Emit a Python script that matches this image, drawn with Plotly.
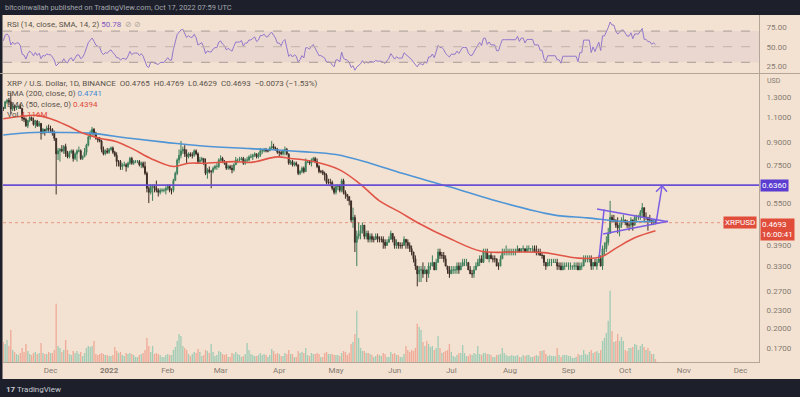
import math
import pandas as pd
import plotly.graph_objects as go

# ---------------- data ----------------
start_date = "2021-11-06"
first_open = 1.19
# closes before the visible window, only used to warm up the RSI
warmup_closes = [1.13, 1.09, 1.09, 1.10, 1.12, 1.07, 1.08, 1.11, 1.09, 1.10, 1.08,
                 0.99, 1.04, 1.10, 1.09, 1.09, 1.11, 1.15, 1.17, 1.17, 1.19]

closes = [
    # Nov 2021 (from Nov 6)
    1.185, 1.250, 1.265, 1.250, 1.180, 1.210, 1.190, 1.205, 1.205, 1.185, 1.095, 1.085, 1.030,
    1.075, 1.100, 1.080, 1.040, 1.070, 1.030, 1.050, 0.970, 1.000, 0.990, 1.010, 1.000,
    # Dec
    1.00, 0.97, 0.93, 0.82, 0.84, 0.85, 0.84, 0.87, 0.82, 0.80, 0.83, 0.84, 0.79, 0.82, 0.84, 0.84,
    0.79, 0.80, 0.83, 0.88, 0.94, 0.97, 1.00, 0.97, 0.93, 0.92, 0.91, 0.85, 0.82, 0.84, 0.83,
    # Jan 2022
    0.85, 0.86, 0.83, 0.81, 0.77, 0.77, 0.74, 0.75, 0.75, 0.74, 0.76, 0.79, 0.76, 0.77, 0.77, 0.77,
    0.75, 0.76, 0.74, 0.70, 0.62, 0.60, 0.63, 0.63, 0.62, 0.61, 0.60, 0.61, 0.61, 0.61, 0.62,
    # Feb
    0.63, 0.61, 0.61, 0.66, 0.70, 0.78, 0.81, 0.84, 0.85, 0.82, 0.80, 0.82, 0.81, 0.81, 0.84, 0.82,
    0.77, 0.78, 0.79, 0.76, 0.70, 0.72, 0.71, 0.71, 0.73, 0.74, 0.74, 0.78,
    # Mar
    0.79, 0.77, 0.76, 0.73, 0.74, 0.73, 0.72, 0.75, 0.78, 0.78, 0.78, 0.79, 0.76, 0.78, 0.78, 0.80,
    0.80, 0.81, 0.82, 0.80, 0.81, 0.84, 0.84, 0.85, 0.84, 0.84, 0.86, 0.87, 0.86, 0.85, 0.83,
    # Apr
    0.83, 0.82, 0.84, 0.85, 0.82, 0.76, 0.77, 0.75, 0.76, 0.75, 0.70, 0.71, 0.73, 0.71, 0.77, 0.77,
    0.76, 0.78, 0.79, 0.77, 0.74, 0.71, 0.71, 0.70, 0.69, 0.65, 0.65, 0.65, 0.62, 0.60,
    # May
    0.63, 0.63, 0.61, 0.66, 0.60, 0.59, 0.58, 0.56, 0.48, 0.49, 0.40, 0.42, 0.43, 0.44, 0.46, 0.42,
    0.43, 0.41, 0.42, 0.41, 0.41, 0.42, 0.41, 0.41, 0.41, 0.40, 0.39, 0.40, 0.41, 0.43, 0.41,
    # Jun
    0.39, 0.40, 0.39, 0.39, 0.39, 0.41, 0.40, 0.39, 0.38, 0.37, 0.35, 0.33, 0.31, 0.32, 0.32, 0.31,
    0.32, 0.31, 0.33, 0.33, 0.34, 0.32, 0.34, 0.37, 0.36, 0.36, 0.35, 0.33, 0.32, 0.31,
    # Jul
    0.32, 0.32, 0.32, 0.33, 0.32, 0.33, 0.34, 0.34, 0.34, 0.32, 0.31, 0.31, 0.32, 0.33, 0.34, 0.35,
    0.34, 0.37, 0.37, 0.35, 0.36, 0.35, 0.35, 0.35, 0.33, 0.33, 0.35, 0.37, 0.37, 0.37, 0.37,
    # Aug
    0.37, 0.37, 0.37, 0.37, 0.38, 0.37, 0.38, 0.38, 0.37, 0.38, 0.38, 0.38, 0.38, 0.37, 0.37, 0.37,
    0.36, 0.36, 0.34, 0.33, 0.34, 0.34, 0.34, 0.34, 0.34, 0.33, 0.33, 0.32, 0.33, 0.33, 0.33,
    # Sep
    0.33, 0.33, 0.33, 0.33, 0.33, 0.32, 0.33, 0.33, 0.35, 0.35, 0.35, 0.35, 0.33, 0.34, 0.33, 0.34,
    0.35, 0.33, 0.38, 0.38, 0.40, 0.43, 0.49, 0.48, 0.48, 0.46, 0.45, 0.46, 0.48, 0.48,
    # Oct (to Oct 17)
    0.47, 0.46, 0.46, 0.48, 0.46, 0.49, 0.49, 0.49, 0.51, 0.53, 0.49, 0.49, 0.48, 0.48, 0.47,
    0.4765, 0.4693,
]

highs = [
    1.20, 1.26, 1.28, 1.29, 1.35, 1.23, 1.22, 1.21, 1.21, 1.23, 1.19, 1.11, 1.10,
    1.08, 1.11, 1.11, 1.10, 1.08, 1.08, 1.07, 1.05, 1.01, 1.00, 1.03, 1.04,
    1.03, 1.01, 0.99, 0.93, 0.86, 0.86, 0.88, 0.88, 0.89, 0.84, 0.84, 0.85, 0.85, 0.83, 0.85, 0.87,
    0.85, 0.81, 0.86, 0.89, 0.95, 0.99, 1.02, 1.01, 0.98, 0.94, 0.94, 0.92, 0.87, 0.85, 0.86,
    0.86, 0.87, 0.87, 0.84, 0.83, 0.78, 0.78, 0.76, 0.77, 0.76, 0.77, 0.80, 0.80, 0.78, 0.78, 0.78,
    0.78, 0.77, 0.77, 0.77, 0.71, 0.63, 0.64, 0.64, 0.64, 0.66, 0.62, 0.62, 0.62, 0.62, 0.63,
    0.64, 0.64, 0.62, 0.67, 0.71, 0.79, 0.85, 0.91, 0.87, 0.88, 0.85, 0.83, 0.83, 0.83, 0.85, 0.85,
    0.83, 0.80, 0.80, 0.79, 0.79, 0.73, 0.74, 0.72, 0.74, 0.75, 0.76, 0.79,
    0.81, 0.80, 0.78, 0.77, 0.75, 0.75, 0.75, 0.76, 0.80, 0.79, 0.80, 0.80, 0.80, 0.79, 0.80, 0.81,
    0.82, 0.82, 0.83, 0.82, 0.83, 0.86, 0.85, 0.86, 0.86, 0.85, 0.87, 0.91, 0.89, 0.87, 0.86,
    0.84, 0.84, 0.85, 0.87, 0.86, 0.82, 0.78, 0.78, 0.77, 0.77, 0.75, 0.72, 0.74, 0.74, 0.79, 0.78,
    0.78, 0.79, 0.80, 0.80, 0.79, 0.75, 0.72, 0.72, 0.71, 0.70, 0.67, 0.67, 0.66, 0.63,
    0.64, 0.64, 0.64, 0.67, 0.67, 0.61, 0.59, 0.58, 0.56, 0.53, 0.50, 0.44, 0.47, 0.46, 0.47, 0.46,
    0.44, 0.44, 0.43, 0.43, 0.42, 0.43, 0.43, 0.42, 0.42, 0.42, 0.41, 0.41, 0.42, 0.44, 0.43,
    0.42, 0.41, 0.40, 0.40, 0.40, 0.42, 0.41, 0.41, 0.40, 0.39, 0.37, 0.36, 0.33, 0.33, 0.33, 0.34,
    0.33, 0.32, 0.34, 0.34, 0.36, 0.34, 0.35, 0.38, 0.38, 0.37, 0.37, 0.36, 0.33, 0.33,
    0.33, 0.33, 0.33, 0.34, 0.34, 0.34, 0.35, 0.35, 0.35, 0.34, 0.33, 0.32, 0.33, 0.34, 0.35, 0.36,
    0.36, 0.38, 0.38, 0.38, 0.36, 0.37, 0.36, 0.36, 0.35, 0.34, 0.36, 0.38, 0.38, 0.39, 0.38,
    0.38, 0.38, 0.38, 0.38, 0.39, 0.38, 0.38, 0.39, 0.38, 0.39, 0.39, 0.38, 0.39, 0.39, 0.39, 0.38,
    0.38, 0.37, 0.36, 0.34, 0.35, 0.35, 0.35, 0.35, 0.35, 0.35, 0.34, 0.34, 0.34, 0.34, 0.34,
    0.34, 0.34, 0.33, 0.34, 0.34, 0.34, 0.34, 0.34, 0.36, 0.36, 0.36, 0.36, 0.36, 0.34, 0.35, 0.35,
    0.36, 0.36, 0.39, 0.40, 0.42, 0.45, 0.56, 0.50, 0.50, 0.48, 0.49, 0.47, 0.49, 0.50,
    0.48, 0.48, 0.47, 0.49, 0.48, 0.50, 0.50, 0.50, 0.52, 0.55, 0.53, 0.51, 0.49, 0.50, 0.48,
    0.48, 0.4769,
]

lows = [
    1.16, 1.18, 1.23, 1.23, 1.13, 1.16, 1.16, 1.17, 1.18, 1.18, 1.07, 1.06, 1.02,
    1.01, 1.06, 1.07, 1.03, 1.01, 1.02, 1.02, 0.92, 0.96, 0.95, 0.98, 0.98,
    0.98, 0.95, 0.91, 0.59, 0.78, 0.77, 0.83, 0.82, 0.80, 0.79, 0.79, 0.82, 0.77, 0.78, 0.77, 0.83,
    0.78, 0.78, 0.80, 0.81, 0.87, 0.92, 0.94, 0.95, 0.92, 0.90, 0.90, 0.83, 0.81, 0.81, 0.82,
    0.82, 0.84, 0.82, 0.80, 0.74, 0.74, 0.72, 0.72, 0.74, 0.71, 0.73, 0.75, 0.75, 0.75, 0.76, 0.76,
    0.74, 0.73, 0.73, 0.69, 0.60, 0.55, 0.59, 0.56, 0.60, 0.60, 0.58, 0.59, 0.60, 0.60, 0.59,
    0.61, 0.60, 0.59, 0.60, 0.66, 0.69, 0.76, 0.79, 0.82, 0.80, 0.76, 0.79, 0.80, 0.79, 0.80, 0.81,
    0.76, 0.76, 0.77, 0.75, 0.69, 0.67, 0.70, 0.62, 0.70, 0.72, 0.72, 0.73,
    0.77, 0.76, 0.75, 0.72, 0.72, 0.72, 0.70, 0.71, 0.75, 0.76, 0.77, 0.78, 0.75, 0.75, 0.76, 0.77,
    0.79, 0.78, 0.80, 0.79, 0.79, 0.80, 0.82, 0.83, 0.83, 0.83, 0.84, 0.85, 0.85, 0.84, 0.82,
    0.80, 0.81, 0.81, 0.81, 0.81, 0.75, 0.75, 0.74, 0.74, 0.74, 0.69, 0.69, 0.70, 0.70, 0.71, 0.76,
    0.75, 0.74, 0.77, 0.76, 0.73, 0.70, 0.70, 0.69, 0.66, 0.64, 0.64, 0.63, 0.61, 0.59,
    0.59, 0.61, 0.60, 0.60, 0.59, 0.57, 0.56, 0.54, 0.47, 0.45, 0.37, 0.33, 0.41, 0.41, 0.43, 0.41,
    0.41, 0.40, 0.40, 0.40, 0.40, 0.41, 0.40, 0.40, 0.40, 0.38, 0.38, 0.39, 0.40, 0.41, 0.40,
    0.38, 0.38, 0.38, 0.38, 0.38, 0.39, 0.38, 0.38, 0.37, 0.36, 0.34, 0.32, 0.28, 0.29, 0.29, 0.30,
    0.31, 0.29, 0.30, 0.32, 0.33, 0.32, 0.32, 0.34, 0.35, 0.35, 0.34, 0.33, 0.31, 0.30,
    0.31, 0.31, 0.31, 0.31, 0.31, 0.32, 0.33, 0.33, 0.33, 0.32, 0.31, 0.30, 0.30, 0.32, 0.33, 0.33,
    0.34, 0.34, 0.35, 0.35, 0.34, 0.35, 0.34, 0.34, 0.33, 0.32, 0.33, 0.35, 0.36, 0.36, 0.36,
    0.36, 0.36, 0.36, 0.36, 0.37, 0.37, 0.37, 0.37, 0.37, 0.37, 0.37, 0.37, 0.37, 0.37, 0.36, 0.36,
    0.36, 0.35, 0.33, 0.32, 0.33, 0.33, 0.33, 0.34, 0.34, 0.32, 0.32, 0.32, 0.32, 0.32, 0.33,
    0.32, 0.32, 0.32, 0.32, 0.32, 0.32, 0.32, 0.32, 0.33, 0.34, 0.34, 0.34, 0.32, 0.32, 0.33, 0.32,
    0.34, 0.33, 0.32, 0.36, 0.37, 0.39, 0.43, 0.47, 0.47, 0.45, 0.43, 0.42, 0.45, 0.47,
    0.46, 0.45, 0.44, 0.45, 0.44, 0.46, 0.47, 0.48, 0.48, 0.49, 0.47, 0.48, 0.44, 0.47, 0.46,
    0.46, 0.4629,
]

volumes = [  # millions (relative)
    20, 18, 22, 16, 32, 12, 10, 8, 7, 9, 14, 10, 18, 11, 8, 7, 9, 10, 8, 9, 19, 9, 8, 8, 10,
    9, 9, 12, 58, 16, 14, 10, 12, 22, 12, 8, 7, 11, 9, 11, 8, 10, 6, 9, 14, 16, 15, 16, 21, 8, 7, 8, 9, 8, 7, 7,
    6, 6, 7, 15, 11, 9, 10, 7, 6, 9, 8, 9, 8, 7, 5, 5, 7, 8, 9, 12, 24, 16, 10, 16, 8, 9, 8, 7, 5, 5, 7,
    8, 7, 7, 12, 15, 21, 28, 26, 16, 14, 12, 8, 6, 8, 10, 9, 13, 10, 6, 7, 12, 11, 9, 18, 10, 6, 7, 11,
    10, 8, 7, 8, 5, 5, 9, 8, 10, 8, 7, 5, 6, 8, 19, 12, 8, 7, 6, 6, 7, 9, 7, 8, 7, 5, 7, 13, 11, 8, 9,
    8, 6, 6, 9, 8, 12, 8, 8, 5, 5, 11, 9, 10, 9, 14, 7, 6, 9, 8, 8, 9, 8, 5, 5, 9, 10, 8, 8, 8, 7,
    7, 7, 6, 9, 11, 10, 7, 9, 18, 20, 28, 51, 24, 14, 11, 11, 9, 9, 8, 7, 5, 6, 8, 7, 6, 9, 8, 5, 5, 10, 8,
    9, 7, 7, 5, 5, 8, 16, 12, 10, 12, 11, 14, 38, 35, 32, 20, 16, 21, 18, 15, 16, 12, 14, 26, 14, 9, 10, 11, 12, 18,
    10, 6, 5, 7, 9, 9, 17, 9, 6, 6, 8, 7, 9, 8, 16, 8, 7, 9, 9, 8, 8, 7, 5, 5, 7, 7, 8, 14, 9, 7, 6,
    6, 7, 6, 6, 7, 5, 5, 7, 6, 7, 7, 5, 5, 6, 7, 6, 11, 11, 12, 8, 6, 7, 6, 6, 6, 14, 7, 5, 7, 7, 7,
    6, 6, 4, 4, 5, 8, 7, 7, 12, 8, 7, 10, 12, 9, 10, 11, 9, 12, 21, 24, 29, 41, 71, 31, 20, 21, 28, 21, 25, 21,
    12, 11, 14, 14, 15, 18, 17, 12, 16, 18, 15, 12, 14, 11, 8, 8, 3,
]

ema50_dates = ["2021-11-06", "2021-11-15", "2021-11-23", "2021-12-01", "2021-12-10", "2021-12-18",
               "2021-12-27", "2022-01-05", "2022-01-14", "2022-01-23", "2022-02-04", "2022-02-12",
               "2022-02-20", "2022-03-08", "2022-03-17", "2022-03-31", "2022-04-07", "2022-04-19",
               "2022-05-03", "2022-05-14", "2022-05-24", "2022-06-04", "2022-06-13", "2022-07-01",
               "2022-07-17", "2022-08-05", "2022-08-19", "2022-09-06", "2022-09-18", "2022-09-27",
               "2022-10-06", "2022-10-17"]
ema50_values = [1.09, 1.11, 1.12, 1.09, 1.03, 0.97, 0.93, 0.905, 0.85, 0.79, 0.74, 0.76, 0.76,
                0.77, 0.765, 0.80, 0.79, 0.77, 0.72, 0.64, 0.56, 0.51, 0.47, 0.41, 0.372, 0.37,
                0.368, 0.352, 0.355, 0.385, 0.415, 0.4394]

ema200_dates = ["2021-11-06", "2021-11-22", "2021-12-06", "2021-12-22", "2022-01-12", "2022-01-31",
                "2022-02-18", "2022-03-17", "2022-04-13", "2022-05-01", "2022-05-19", "2022-06-05",
                "2022-07-01", "2022-07-23", "2022-08-24", "2022-09-11", "2022-09-29", "2022-10-17"]
ema200_values = [0.955, 0.975, 0.975, 0.97, 0.93, 0.90, 0.875, 0.855, 0.835, 0.815, 0.76, 0.70,
                 0.625, 0.564, 0.50, 0.488, 0.474, 0.4741]

resistance_level = 0.636
last_price = 0.4693
x_range = ["2021-11-05 21:00", "2022-12-10 18:00"]

# pennant drawing (date, price); None separates segments
pennant_dates = ["2022-09-17 05:00", "2022-09-19 19:00", None,
                 "2022-09-16 02:00", "2022-10-23 14:00", None,
                 "2022-09-19 07:00", "2022-10-23 14:00"]
pennant_prices = [0.355, 0.522, None, 0.524, 0.473, None, 0.428, 0.475]
arrow_dates = ["2022-10-17 07:00", "2022-10-20 12:00", None,
               "2022-10-17 07:00", "2022-10-20 12:00", "2022-10-23 02:00"]
arrow_prices = [0.468, 0.633, None, 0.603, 0.633, 0.603]

month_ticks = ["2021-12-01", "2022-01-01", "2022-02-01", "2022-03-01", "2022-04-01", "2022-05-01",
               "2022-06-01", "2022-07-01", "2022-08-01", "2022-09-01", "2022-10-01", "2022-11-01",
               "2022-12-01"]
month_labels = ["Dec", "<b>2022</b>", "Feb", "Mar", "Apr", "May", "Jun", "Jul", "Aug", "Sep", "Oct",
                "Nov", "Dec"]
price_ticks = [1.3, 1.1, 0.9, 0.75, 0.55, 0.39, 0.33, 0.27, 0.23, 0.2, 0.17]
price_tick_labels = ["1.3000", "1.1000", "0.9000", "0.7500", "0.5500", "0.3900", "0.3300",
                     "0.2700", "0.2300", "0.2000", "0.1700"]
rsi_ticks = [25, 50, 75]
rsi_tick_labels = ["25.00", "50.00", "75.00"]

assert len(closes) == len(highs) == len(lows) == len(volumes) == 346

# ---------------- derived ----------------
dates = pd.date_range(start_date, periods=len(closes), freq="D")
opens = [first_open] + closes[:-1]

# RSI(14) with Wilder smoothing
allc = warmup_closes + closes
ch = [allc[i] - allc[i - 1] for i in range(1, len(allc))]
g = [max(c, 0) for c in ch]
l = [max(-c, 0) for c in ch]
ag = sum(g[:14]) / 14
al = sum(l[:14]) / 14
rsi_all = [None] * 14
rsi_all.append(100 - 100 / (1 + ag / al) if al > 0 else 100)
for i in range(14, len(ch)):
    ag = (ag * 13 + g[i]) / 14
    al = (al * 13 + l[i]) / 14
    rsi_all.append(100 - 100 / (1 + ag / al) if al > 0 else 100)
rsi = rsi_all[len(warmup_closes):]

UP = "#3d7f5c"
DOWN = "#3b2c25"
vol_colors = ["rgba(110,190,165,0.62)" if c >= o else "rgba(238,130,110,0.58)"
              for o, c in zip(opens, closes)]

BG = "#f3e2d1"
DARK = "#1d202b"
AXIS_C = "#b3a597"
TXT = "#857a72"
FONT = "Roboto"
H = 397.0
W = 800.0

fig = go.Figure()

fig.add_trace(go.Bar(x=dates, y=volumes, marker_color=vol_colors, marker_line_width=0,
                     xaxis="x", yaxis="y3", showlegend=False, hoverinfo="skip"))
fig.add_trace(go.Scatter(x=ema200_dates, y=ema200_values, mode="lines",
                         line=dict(color="#4f95d6", width=1.6, shape="spline"),
                         xaxis="x", yaxis="y2", showlegend=False))
fig.add_trace(go.Scatter(x=ema50_dates, y=ema50_values, mode="lines",
                         line=dict(color="#e05548", width=1.6, shape="spline"),
                         xaxis="x", yaxis="y2", showlegend=False))
fig.add_trace(go.Scatter(x=x_range, y=[last_price, last_price], mode="lines",
                         line=dict(color="rgba(224,90,70,0.55)", width=1, dash="dot"),
                         xaxis="x", yaxis="y2", showlegend=False))
fig.add_trace(go.Candlestick(x=dates, open=opens, high=highs, low=lows, close=closes,
                             increasing=dict(line=dict(color=UP, width=1), fillcolor=UP),
                             decreasing=dict(line=dict(color=DOWN, width=1), fillcolor=DOWN),
                             xaxis="x", yaxis="y2", showlegend=False))
fig.add_trace(go.Scatter(x=x_range, y=[resistance_level, resistance_level], mode="lines",
                         line=dict(color="#6a4fd3", width=1.6),
                         xaxis="x", yaxis="y2", showlegend=False))
fig.add_trace(go.Scatter(x=pennant_dates, y=pennant_prices, mode="lines",
                         line=dict(color="#7a5ce4", width=1.5), connectgaps=False,
                         xaxis="x", yaxis="y2", showlegend=False))
fig.add_trace(go.Scatter(x=arrow_dates, y=arrow_prices, mode="lines",
                         line=dict(color="#7a5ce4", width=1.5), connectgaps=False,
                         xaxis="x", yaxis="y2", showlegend=False))
fig.add_trace(go.Scatter(x=dates, y=rsi, mode="lines", line=dict(color="#9278cc", width=1),
                         xaxis="x2", yaxis="y", showlegend=False))

xdom = [3 / W, 759 / W]
rsi_dom = [1 - 73 / H, 1 - 15 / H]
price_dom = [1 - 362 / H, 1 - 74 / H]

fig.update_layout(
    width=800, height=397,
    margin=dict(l=0, r=0, t=0, b=0),
    paper_bgcolor=BG, plot_bgcolor=BG,
    font=dict(family=FONT, size=8, color=TXT),
    bargap=0.3,
    showlegend=False,
    xaxis=dict(domain=xdom, anchor="y2", type="date", range=x_range,
               tickvals=month_ticks, ticktext=month_labels, tickfont=dict(size=8, color=TXT),
               showgrid=False, zeroline=False, showline=True, linecolor=AXIS_C, linewidth=1,
               ticks="", rangeslider=dict(visible=False)),
    xaxis2=dict(domain=xdom, anchor="y", type="date", range=x_range, matches="x",
                showticklabels=False, showgrid=False, zeroline=False, ticks=""),
    yaxis=dict(domain=rsi_dom, anchor="x2", range=[16.3, 90.6], side="right",
               tickvals=rsi_ticks, ticktext=rsi_tick_labels, tickfont=dict(size=8, color=TXT),
               showgrid=False, zeroline=False, showline=True, linecolor=AXIS_C, ticks="",
               ticklabelstandoff=5),
    yaxis2=dict(domain=price_dom, anchor="x", type="log", range=[-0.8192, 0.1949], side="right",
                tickvals=price_ticks, ticktext=price_tick_labels, tickfont=dict(size=8, color=TXT),
                showgrid=False, zeroline=False, showline=True, linecolor=AXIS_C, ticks="",
                ticklabelstandoff=5),
    yaxis3=dict(domain=price_dom, anchor="x", overlaying="y2", range=[0, 287], visible=False),
)

shapes = [
    dict(type="rect", xref="paper", yref="paper", x0=0, x1=1, y0=1 - 15 / H, y1=1,
         fillcolor=DARK, line=dict(width=0), layer="above"),
    dict(type="rect", xref="paper", yref="paper", x0=0, x1=1, y0=0, y1=1 - 379 / H,
         fillcolor=DARK, line=dict(width=0), layer="above"),
    dict(type="rect", xref="paper", yref="paper", x0=0, x1=2.5 / W, y0=0, y1=1,
         fillcolor=DARK, line=dict(width=0), layer="above"),
    dict(type="line", xref="paper", yref="paper", x0=0, x1=1, y0=1 - 73.5 / H, y1=1 - 73.5 / H,
         line=dict(color=AXIS_C, width=1)),
    dict(type="rect", xref="x2 domain", yref="y", x0=0, x1=1, y0=30, y1=70,
         fillcolor="rgba(126,87,194,0.08)", line=dict(width=0), layer="below"),
    dict(type="line", xref="x2 domain", yref="y", x0=0, x1=1, y0=70, y1=70,
         line=dict(color="#a89c98", width=1, dash="dash")),
    dict(type="line", xref="x2 domain", yref="y", x0=0, x1=1, y0=50, y1=50,
         line=dict(color="#c0b2aa", width=1, dash="dash")),
    dict(type="line", xref="x2 domain", yref="y", x0=0, x1=1, y0=30, y1=30,
         line=dict(color="#a89c98", width=1, dash="dash")),
]
fig.update_layout(shapes=shapes)

LEG = "#5a524c"
ann = [
    dict(text="bitcoinwallah published on TradingView.com, Oct 17, 2022 07:59 UTC",
         x=3 / W, y=1 - 7.5 / H, font=dict(size=7.4, color="#a3a6ae")),
    dict(text="RSI (14, close, SMA, 14, 2) <span style='color:#7e57c2'>50.78</span>  "
              "<span style='color:#b0a49c'>⊘ ⊘</span>",
         x=5 / W, y=1 - 24.5 / H, font=dict(size=8, color=LEG)),
    dict(text="XRP / U.S. Dollar, 1D, BINANCE  O0.4765  H0.4769  L0.4629  C0.4693  "
              "−0.0073 (−1.53%)",
         x=5 / W, y=1 - 84 / H, font=dict(size=8, color=LEG)),
    dict(text="EMA (200, close, 0) <span style='color:#3f8ad6'>0.4741</span>",
         x=5 / W, y=1 - 94 / H, font=dict(size=8, color=LEG)),
    dict(text="EMA (50, close, 0) <span style='color:#e0493c'>0.4394</span>",
         x=5 / W, y=1 - 104 / H, font=dict(size=8, color=LEG)),
    dict(text="Vol <span style='color:#e0493c'>4.116M</span>",
         x=5 / W, y=1 - 114 / H, font=dict(size=8, color=LEG)),
    dict(text="USD", x=765 / W, y=1 - 81 / H, font=dict(size=7, color=TXT)),
    dict(text="<b>17</b> TradingView", x=4 / W, y=1 - 389 / H, font=dict(size=8, color="#c9ccd3")),
]
annotations = []
for a in ann:
    a.update(xref="paper", yref="paper", xanchor="left", yanchor="middle", showarrow=False)
    annotations.append(a)

annotations.append(dict(text="0.6360", xref="paper", yref="y2", x=760 / W,
                        y=math.log10(resistance_level), xanchor="left", yanchor="middle",
                        showarrow=False, bgcolor="#5b3dd1", borderpad=1,
                        font=dict(size=8, color="white")))
annotations.append(dict(text="0.4693<br>16:00:41", xref="paper", yref="y2", x=760 / W,
                        y=math.log10(last_price), xanchor="left", yanchor="top", yshift=5,
                        showarrow=False, bgcolor="#e14d3b", borderpad=1, align="left",
                        font=dict(size=8, color="white")))
annotations.append(dict(text="XRPUSD", xref="paper", yref="y2", x=757 / W,
                        y=math.log10(last_price), xanchor="right", yanchor="middle",
                        showarrow=False, bgcolor="#e14d3b", borderpad=1,
                        font=dict(size=8, color="white")))
fig.update_layout(annotations=annotations)

fig.write_html("out.html", config={"displayModeBar": False},
               post_script="document.body.style.margin='0';document.body.style.overflow='hidden';")
